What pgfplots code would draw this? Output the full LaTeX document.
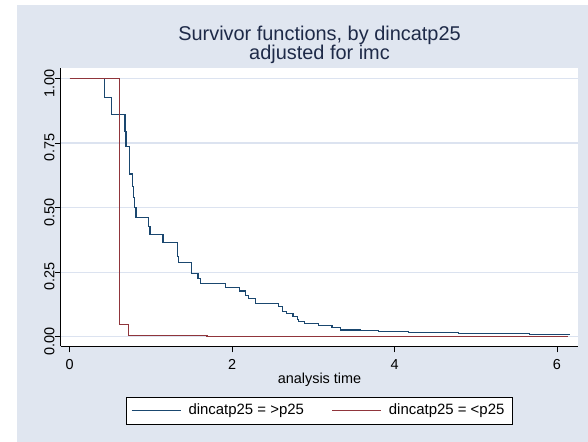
\documentclass[border=0pt]{standalone}
\usepackage{fontspec}
\setmainfont{Liberation Sans}
\usepackage{pgfplots}
\pgfplotsset{compat=1.18}

\definecolor{stbg}{RGB}{224,230,240}
\definecolor{stgrid}{RGB}{220,227,240}
\definecolor{stnavy}{RGB}{26,71,111}
\definecolor{stmaroon}{RGB}{144,53,59}
\definecolor{sttitle}{RGB}{30,42,72}

\begin{document}
\begin{tikzpicture}[x=1bp,y=1bp]
  % graph region
  \fill[white] (0,0) rectangle (588,442);
  \fill[stbg] (17,0) rectangle (588,437);
  \begin{axis}[
    at={(60.7bp,95.7bp)}, anchor=south west,
    scale only axis, width=517.6bp, height=278bp,
    xmin=-0.111, xmax=6.263, ymin=-0.037, ymax=1.039,
    axis lines*=left,
    axis line style={black, line width=0.8bp},
    axis background/.style={fill=white},
    xtick={0,2,4,6}, xticklabels={0,2,4,6},
    ytick={0,0.25,0.5,0.75,1},
    yticklabels={0.00,0.25,0.50,0.75,1.00},
    tick align=outside, major tick length=6bp,
    tick style={black, line width=0.8bp},
    ymajorgrids, grid style={stgrid, line width=1.2bp},
    /pgf/number format/assume math mode=true,
    ticklabel style={font=\fontsize{14.5}{16}\selectfont, inner sep=0pt},
    xticklabel style={anchor=north, yshift=-7bp},
    yticklabel style={rotate=90, anchor=south, xshift=-4.7bp},
    xlabel={analysis time},
    xlabel style={font=\fontsize{14.5}{16}\selectfont, inner sep=0pt,
      at={(axis description cs:0.5,0)}, anchor=north, yshift=-27bp},
    every axis title shift=0pt,
    title={Survivor functions, by dincatp25\\adjusted for imc},
    title style={font=\fontsize{20}{19.5}\selectfont, text=sttitle,
      align=center, inner sep=0pt,
      at={(axis description cs:0.5,1)}, anchor=south, yshift=4.5bp},
    legend columns=2,
    legend cell align=left,
    legend style={at={(0.5,-0.1824)}, anchor=north,
      draw=black, line width=0.8bp, fill=white,
      font=\fontsize{15}{16}\selectfont,
      inner xsep=4.7bp, inner ysep=1.5bp,
      nodes={inner xsep=3.5bp, inner ysep=5bp, text height=11bp, text depth=3bp},
      /tikz/every even column/.append style={column sep=24bp}},
    legend image code/.code={%
      \draw[#1] (0bp,0bp) -- (49bp,0bp);
      \path (0bp,0bp) (52.8bp,0bp);},
  ]
    % group dincatp25 = >p25
    \addplot[const plot, stnavy, line width=1.1bp] coordinates {
      (0,1.000) (0.431,0.926) (0.509,0.859) (0.681,0.796) (0.693,0.735)
      (0.734,0.630) (0.775,0.583) (0.784,0.539) (0.800,0.499) (0.816,0.462)
      (0.973,0.426) (0.989,0.395) (1.149,0.364) (1.330,0.310) (1.342,0.288)
      (1.502,0.245) (1.580,0.225) (1.613,0.205) (1.921,0.190) (2.089,0.177)
      (2.167,0.161) (2.200,0.149) (2.290,0.127) (2.570,0.116) (2.620,0.099)
      (2.670,0.090) (2.750,0.080) (2.800,0.068) (2.820,0.058) (2.890,0.052)
      (3.060,0.043) (3.230,0.035) (3.330,0.026) (3.580,0.023) (3.800,0.019)
      (4.170,0.017) (4.460,0.015) (4.790,0.013) (5.090,0.012) (5.660,0.010)
      (6.160,0.010)
    };
    \addlegendentry{dincatp25 = >p25}
    % group dincatp25 = <p25
    \addplot[const plot, stmaroon, line width=1.1bp] coordinates {
      (0,1.000) (0.611,0.046) (0.722,0.004) (1.690,0.001) (6.130,0.001)
    };
    \addlegendentry{dincatp25 = <p25}
  \end{axis}
\end{tikzpicture}
\end{document}
